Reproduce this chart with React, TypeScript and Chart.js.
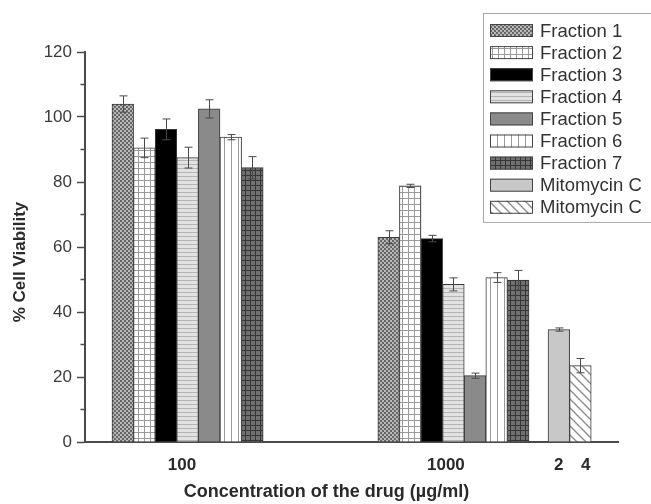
import { useEffect, useRef } from 'react';
import { Chart, registerables } from 'chart.js';

Chart.register(...registerables);

// ---------- data ----------
const concentrationLabels = ['100', '1000'];
const mitomycinDoseLabels = ['2', '4'];
const fractionLabels = ['Fraction 1', 'Fraction 2', 'Fraction 3', 'Fraction 4', 'Fraction 5', 'Fraction 6', 'Fraction 7'];
const mitomycinLabels = ['Mitomycin C', 'Mitomycin C'];
const viabilityAt100 = [104.0, 90.5, 96.2, 87.5, 102.5, 93.8, 84.4];
const errorAt100 = [2.5, 3.0, 3.2, 3.2, 2.8, 0.8, 3.4];
const viabilityAt1000 = [63.0, 78.8, 62.6, 48.5, 20.4, 50.6, 49.8];
const errorAt1000 = [2.0, 0.5, 1.0, 2.0, 0.8, 1.5, 3.0];
const mitomycinViability = [34.6, 23.5];
const mitomycinError = [0.5, 2.2];
const yMin = 0;
const yMax = 120;
const yStep = 10;
const yLabelStep = 20;

// ---------- layout (x axis in bar-width units) ----------
const groupStart = [1.25, 13.56, 21.44];
const tickPositions = [4.49, 16.71, 21.94, 23.19];
const tickLabels = [...concentrationLabels, ...mitomycinDoseLabels];
const xMax = 24.68;

const FONT = "'Liberation Sans', Arial, Helvetica, sans-serif";

function makePattern(kind: string): CanvasPattern | string {
  const c = document.createElement('canvas');
  const ctx = c.getContext('2d')!;
  const sz = (w: number, h: number) => { c.width = w; c.height = h; };
  switch (kind) {
    case 'checker':
      sz(4, 4);
      ctx.fillStyle = '#b8b8b8'; ctx.fillRect(0, 0, 4, 4);
      ctx.fillStyle = '#666666'; ctx.fillRect(0, 0, 2, 2); ctx.fillRect(2, 2, 2, 2);
      break;
    case 'grid':
      sz(6, 6);
      ctx.fillStyle = '#ffffff'; ctx.fillRect(0, 0, 6, 6);
      ctx.fillStyle = '#9a9a9a'; ctx.fillRect(0, 0, 6, 1); ctx.fillRect(0, 0, 1, 6);
      break;
    case 'hlines':
      sz(4, 4);
      ctx.fillStyle = '#e2e2e2'; ctx.fillRect(0, 0, 4, 4);
      ctx.fillStyle = '#b4b4b4'; ctx.fillRect(0, 0, 4, 1);
      break;
    case 'vlines':
      sz(7, 4);
      ctx.fillStyle = '#ffffff'; ctx.fillRect(0, 0, 7, 4);
      ctx.fillStyle = '#9a9a9a'; ctx.fillRect(0, 0, 1, 4);
      break;
    case 'darkgrid':
      sz(5, 5);
      ctx.fillStyle = '#707070'; ctx.fillRect(0, 0, 5, 5);
      ctx.fillStyle = '#363636'; ctx.fillRect(0, 0, 5, 1); ctx.fillRect(0, 0, 1, 5);
      break;
    case 'diag':
      sz(9, 9);
      ctx.fillStyle = '#ffffff'; ctx.fillRect(0, 0, 9, 9);
      ctx.strokeStyle = '#8a8a8a'; ctx.lineWidth = 1.3;
      for (const off of [-9, 0, 9]) {
        ctx.beginPath(); ctx.moveTo(off - 1, -1); ctx.lineTo(off + 10, 10); ctx.stroke();
      }
      break;
    default:
      return kind;
  }
  return ctx.createPattern(c, 'repeat') as CanvasPattern;
}

const fractionFills = ['checker', 'grid', '#000000', 'hlines', '#8a8a8a', 'vlines', 'darkgrid'];
const mitomycinFills = ['#c8c8c8', 'diag'];

const errorBarPlugin = {
  id: 'errorBars',
  afterDatasetsDraw(chart: any) {
    const ctx = chart.ctx;
    const y = chart.scales.y;
    ctx.save();
    ctx.strokeStyle = '#4a4a4a';
    ctx.lineWidth = 1;
    chart.data.datasets.forEach((ds: any, i: number) => {
      const meta = chart.getDatasetMeta(i);
      meta.data.forEach((bar: any, j: number) => {
        const p = ds.data[j];
        const x = Math.round(bar.x) + 0.5;
        const top = y.getPixelForValue(p.y + p.err);
        const bot = y.getPixelForValue(p.y - p.err);
        ctx.beginPath();
        ctx.moveTo(x, top); ctx.lineTo(x, bot);
        ctx.moveTo(x - 4, top); ctx.lineTo(x + 4, top);
        ctx.moveTo(x - 4, bot); ctx.lineTo(x + 4, bot);
        ctx.stroke();
      });
    });
    ctx.restore();
  },
};

const titlesPlugin = {
  id: 'axisTitles',
  afterDraw(chart: any) {
    const ctx = chart.ctx;
    const a = chart.chartArea;
    ctx.save();
    ctx.fillStyle = '#2a2a2a';
    ctx.textAlign = 'center';
    ctx.textBaseline = 'middle';
    ctx.font = `bold 17px ${FONT}`;
    ctx.translate(20, (a.top + a.bottom) / 2 + 15);
    ctx.rotate(-Math.PI / 2);
    ctx.fillText('% Cell Viability', 0, 0);
    ctx.restore();
    ctx.save();
    ctx.fillStyle = '#2a2a2a';
    ctx.textAlign = 'center';
    ctx.textBaseline = 'middle';
    ctx.font = `bold 18px ${FONT}`;
    ctx.fillText('Concentration of the drug (\u00b5g/ml)', (a.left + a.right) / 2 - 25, a.bottom + 50);
    ctx.restore();
  },
};

const legendPlugin = {
  id: 'boxLegend',
  afterDraw(chart: any) {
    const ctx = chart.ctx;
    const dss = chart.data.datasets;
    const left = 483, top = 13, rowH = 22.1;
    ctx.save();
    ctx.fillStyle = '#ffffff';
    ctx.fillRect(left, top, 200, dss.length * rowH + 10);
    ctx.strokeStyle = '#a8a8a8';
    ctx.lineWidth = 1;
    ctx.strokeRect(left + 0.5, top + 0.5, 200, dss.length * rowH + 10);
    ctx.font = `18.5px ${FONT}`;
    ctx.textBaseline = 'middle';
    dss.forEach((ds: any, i: number) => {
      const cy = top + 17.5 + i * rowH;
      ctx.fillStyle = ds.backgroundColor;
      ctx.fillRect(left + 7, cy - 6.5, 43, 13);
      ctx.strokeStyle = '#444444';
      ctx.strokeRect(left + 7.5, cy - 6, 42, 12);
      ctx.fillStyle = '#333333';
      ctx.fillText(ds.label, left + 57, cy + 1);
    });
    ctx.restore();
  },
};

export default function App() {
  const ref = useRef<HTMLCanvasElement>(null);
  useEffect(() => {
    const datasets: any[] = [];
    fractionLabels.forEach((label, k) => {
      datasets.push({
        label,
        data: [
          { x: groupStart[0] + 0.5 + k, y: viabilityAt100[k], err: errorAt100[k] },
          { x: groupStart[1] + 0.5 + k, y: viabilityAt1000[k], err: errorAt1000[k] },
        ],
        backgroundColor: makePattern(fractionFills[k]),
      });
    });
    mitomycinLabels.forEach((label, m) => {
      datasets.push({
        label,
        data: [{ x: groupStart[2] + 0.5 + m, y: mitomycinViability[m], err: mitomycinError[m] }],
        backgroundColor: makePattern(mitomycinFills[m]),
      });
    });
    datasets.forEach((d) => {
      d.borderColor = '#3a3a3a';
      d.borderWidth = 1;
      d.grouped = false;
      d.barPercentage = 1;
      d.categoryPercentage = 1;
    });

    const chart = new Chart(ref.current!, {
      type: 'bar',
      data: { datasets },
      options: {
        animation: false,
        responsive: false,
        devicePixelRatio: 1,
        layout: { padding: { top: 52, right: 33, left: 0, bottom: 0 } },
        plugins: { legend: { display: false }, tooltip: { enabled: false } },
        scales: {
          x: {
            type: 'linear',
            min: 0,
            max: xMax,
            offset: false,
            afterBuildTicks: (scale: any) => {
              scale.ticks = tickPositions.map((v) => ({ value: v }));
            },
            afterFit: (scale: any) => { scale.height = 62; },
            grid: { display: false, drawTicks: false, offset: false },
            border: { display: true, color: '#4a4a4a', width: 2 },
            ticks: {
              autoSkip: false,
              maxRotation: 0,
              padding: 13,
              color: '#2a2a2a',
              font: { family: FONT, size: 17, weight: 'bold' },
              callback: (_v: any, i: number) => tickLabels[i],
            },
          },
          y: {
            type: 'linear',
            min: yMin,
            max: yMax,
            afterFit: (scale: any) => { scale.width = 85; },
            grid: {
              drawOnChartArea: false,
              drawTicks: true,
              tickLength: 8,
              tickColor: '#4a4a4a',
              tickWidth: 1.5,
              tickBorderDash: (ctx: any) => (ctx.tick && ctx.tick.value % yLabelStep !== 0 ? [0, 3.5, 3.5, 100] : []),
            } as any,
            border: { display: true, color: '#4a4a4a', width: 2 },
            ticks: {
              stepSize: yStep,
              padding: 5,
              color: '#3a3a3a',
              font: { family: FONT, size: 17 },
              callback: (v: any) => (v % yLabelStep === 0 ? String(v) : ''),
            },
          },
        },
      } as any,
      plugins: [errorBarPlugin, titlesPlugin, legendPlugin],
    });
    return () => chart.destroy();
  }, []);
  return (
    <div style={{ position: 'absolute', left: 0, top: 0, width: 651, height: 504, background: '#fff' }}>
      <canvas ref={ref} width={651} height={504} style={{ display: 'block' }} />
    </div>
  );
}
